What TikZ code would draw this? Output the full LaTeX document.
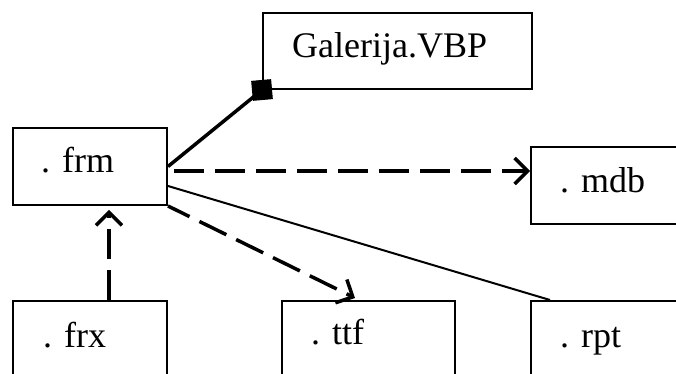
\documentclass[tikz,border=0pt]{standalone}
\usepackage{fontspec}
\setmainfont{Liberation Serif}
\usetikzlibrary{arrows.meta}
\begin{document}
\begin{tikzpicture}[x=1pt,y=1pt,
  box/.style={draw, line width=2pt, inner sep=0pt, anchor=north west},
  lbl/.style={anchor=base west, inner sep=0pt, font=\fontsize{36}{40}\selectfont},
  dep/.style={line width=3.5pt, dash pattern=on 30pt off 11pt, -{Straight Barb[length=13pt,width=26pt,line width=3.5pt]}},
  assoc/.style={line width=3.5pt},
  link/.style={line width=2pt},
  sq/.style={fill=black, draw=black, line width=1pt, minimum size=19pt, inner sep=0pt}]
\useasboundingbox (0,0) rectangle (676,374);
\clip (0,0) rectangle (676,374);
% boxes (y = 374 - pixel row)
\node[box, minimum width=269pt, minimum height=76pt] (gal) at (262,362) {};
\node[box, minimum width=154pt, minimum height=77pt] (frm) at (12,247) {};
\node[box, minimum width=170pt, minimum height=77pt] (mdb) at (530,228) {};
\node[box, minimum width=154pt, minimum height=90pt] (frx) at (12,74) {};
\node[box, minimum width=173pt, minimum height=90pt] (ttf) at (281,74) {};
\node[box, minimum width=170pt, minimum height=90pt] (rpt) at (530,74) {};
% labels
\node[lbl] (galt) at (292,316) {Galerija.VBP};
\node[lbl] (frmt) at (41,201) {. frm};
\node[lbl] (mdbt) at (560,181) {. mdb};
\node[lbl] (frxt) at (43,26) {. frx};
\node[lbl] (ttft) at (311,29) {. ttf};
\node[lbl] (rptt) at (560,26) {. rpt};
% connectors
\draw[assoc] (frm.east) -- (gal.south west);
\node[sq, rotate=5] (agg) at (gal.south west) {};
\draw[dep] ([xshift=6pt,yshift=-4.5pt]frm.east) -- ([yshift=14.5pt]mdb.west);
\draw[dep, dash phase=6pt] (frm.south east) -- ([xshift=-13.5pt,yshift=2pt]ttf.north);
\draw[link] ([yshift=-19.5pt]frm.east) -- ([xshift=20pt]rpt.north west);
\draw[dep] ([xshift=19pt]frx.north) -- ([xshift=19pt,yshift=-4pt]frm.south);
\end{tikzpicture}
\end{document}
